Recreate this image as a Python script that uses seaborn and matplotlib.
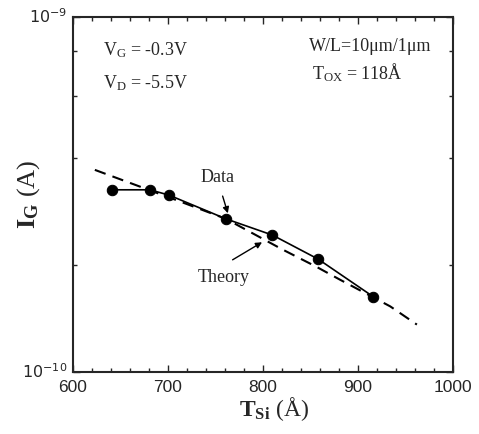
import matplotlib
matplotlib.use("Agg")
import matplotlib.pyplot as plt
import matplotlib.ticker as mticker
import numpy as np
import pandas as pd
import seaborn as sns

# Data
t_si_data = [641, 681, 701, 761, 810, 858, 916]
ig_data = [3.26e-10, 3.26e-10, 3.15e-10, 2.70e-10, 2.43e-10, 2.08e-10, 1.63e-10]

t_si_theory = [623, 713, 761, 821, 856, 881, 934, 962]
ig_theory = [3.71e-10, 3.02e-10, 2.70e-10, 2.21e-10, 1.98e-10, 1.82e-10, 1.53e-10, 1.36e-10]

x_ticks = [600, 700, 800, 900, 1000]
y_ticks = [1e-10, 1e-9]
y_tick_labels = [r"$10^{-10}$", r"$10^{-9}$"]

sns.set_style("ticks")
plt.rcParams["font.family"] = ["Liberation Sans", "DejaVu Sans"]
plt.rcParams["mathtext.fontset"] = "custom"
plt.rcParams["mathtext.rm"] = "Liberation Serif"
plt.rcParams["mathtext.it"] = "Liberation Serif:italic"
plt.rcParams["mathtext.bf"] = "Liberation Serif:bold"

fig = plt.figure(figsize=(4.79, 4.34), dpi=100)
ax = fig.add_axes([0.1524, 0.1429, 0.7933, 0.8179])

df_data = pd.DataFrame({"T": t_si_data, "I": ig_data})
df_theory = pd.DataFrame({"T": t_si_theory, "I": ig_theory})

sns.lineplot(data=df_theory, x="T", y="I", ax=ax, color="black", lw=1.5,
             linestyle=(0, (5.5, 3.5)), sort=False)
sns.lineplot(data=df_data, x="T", y="I", ax=ax, color="black", lw=1.2,
             marker="o", markersize=7.5, markeredgecolor="black", sort=False)

ax.set_yscale("log")
ax.set_xlim(600, 1000)
ax.set_ylim(1e-10, 1e-9)
ax.set_xticks(x_ticks)
ax.set_xticklabels([str(v) for v in x_ticks])
ax.xaxis.set_minor_locator(mticker.MultipleLocator(20))
ax.set_yticks(y_ticks)
ax.set_yticklabels(["", ""])
ax.yaxis.set_minor_locator(mticker.FixedLocator([2e-10, 4e-10, 6e-10, 8e-10]))
ax.yaxis.set_minor_formatter(mticker.NullFormatter())

ax.tick_params(which="both", direction="in", top=True, right=True, width=1.0)
ax.tick_params(which="major", length=5, labelsize=12.5, pad=6)
ax.tick_params(which="minor", length=3)
for s in ax.spines.values():
    s.set_linewidth(1.5)

# y tick labels at the corners like the reference
ax.text(-0.015, 1.0, y_tick_labels[1], transform=ax.transAxes, ha="right", va="center",
        fontsize=11.5, family="Liberation Sans", math_fontfamily="dejavusans")
ax.text(-0.015, 0.0, y_tick_labels[0], transform=ax.transAxes, ha="right", va="center",
        fontsize=11.5, family="Liberation Sans", math_fontfamily="dejavusans")

ax.set_xlabel(r"$\mathbf{T_{Si}}$ (Å)", fontsize=17, family="Liberation Serif", labelpad=2)
ax.xaxis.set_label_coords(0.53, -0.065)
ax.set_ylabel(r"$\mathbf{I_G}$ (A)", fontsize=19, family="Liberation Serif", labelpad=16)

serif = "Liberation Serif"
fs = 13
ax.text(0.08, 0.893, r"V$_\mathrm{G}$ = -0.3V", transform=ax.transAxes, fontsize=fs, family=serif)
ax.text(0.08, 0.800, r"V$_\mathrm{D}$ = -5.5V", transform=ax.transAxes, fontsize=fs, family=serif)
ax.text(0.62, 0.905, "W/L=10μm/1μm", transform=ax.transAxes, fontsize=fs, family=serif)
ax.text(0.63, 0.825, r"T$_\mathrm{OX}$ = 118Å", transform=ax.transAxes, fontsize=fs, family=serif)

ax.text(752, 3.52e-10, "Data", fontsize=fs, family=serif, ha="center", va="center")
ax.annotate("", xy=(763, 2.80e-10), xytext=(757.5, 3.13e-10),
            arrowprops=dict(arrowstyle="-|>", color="black", lw=1.0, mutation_scale=9,
                            shrinkA=0, shrinkB=0))
ax.text(759, 1.84e-10, "Theory", fontsize=fs, family=serif, ha="center", va="center")
ax.annotate("", xy=(799, 2.32e-10), xytext=(768, 2.07e-10),
            arrowprops=dict(arrowstyle="-|>", color="black", lw=1.0, mutation_scale=9,
                            shrinkA=0, shrinkB=0))

fig.savefig("out.png", dpi=100)
